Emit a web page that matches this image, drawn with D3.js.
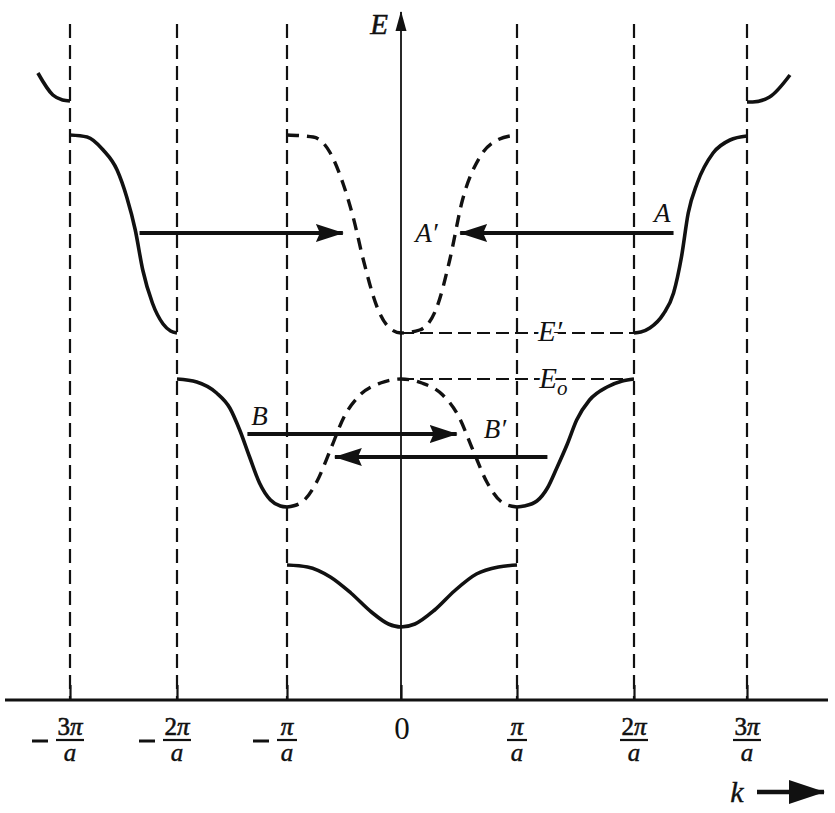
<!DOCTYPE html>
<html>
<head>
<meta charset="utf-8">
<script src="https://cdn.jsdelivr.net/npm/d3@7"></script>
<style>
  html, body { margin: 0; padding: 0; background: #fff; }
  svg { display: block; }
  svg text { font-family: "Liberation Serif", "Times New Roman", Times, serif; fill: #111; }
</style>
</head>
<body>
<svg id="chart" width="835" height="813" font-family="Liberation Serif, Times New Roman, serif"></svg>
<script>
// ---- tick data ----
const kTicks = [-3, -2, -1, 0, 1, 2, 3];
const tickNum = ["3", "2", "", "0", "", "2", "3"];
const tickNeg = [true, true, true, false, false, false, false];

// ---- band data (k in units of π/a, E in arbitrary units) ----
const band1K = [-1, -0.82, -0.62, -0.44, -0.26, -0.11, 0, 0.12, 0.29, 0.46, 0.65, 0.84, 1];
const band1E = [1.35, 1.33, 1.23, 1.07, 0.88, 0.76, 0.73, 0.76, 0.9, 1.09, 1.26, 1.33, 1.35];

const band2LeftK = [-2, -1.82, -1.64, -1.52, -1.43, -1.34, -1.25, -1.15, -1.06, -1];
const band2LeftE = [3.21, 3.18, 3.07, 2.92, 2.70, 2.43, 2.17, 2.00, 1.94, 1.93];
const band2RightK = [1, 1.06, 1.17, 1.26, 1.34, 1.43, 1.51, 1.62, 1.77, 1.9, 2];
const band2RightE = [1.93, 1.94, 1.99, 2.12, 2.32, 2.56, 2.80, 3.00, 3.13, 3.19, 3.21];
const band2DashK = [-1, -0.88, -0.74, -0.62, -0.5, -0.36, -0.18, 0, 0.18, 0.36, 0.5, 0.62, 0.74, 0.88, 1];
const band2DashE = [1.93, 1.97, 2.18, 2.5, 2.83, 3.05, 3.17, 3.21, 3.17, 3.05, 2.83, 2.5, 2.18, 1.97, 1.93];

const band3LeftK = [-3, -2.84, -2.69, -2.56, -2.47, -2.39, -2.32, -2.23, -2.13, -2.06, -2];
const band3LeftE = [5.65, 5.63, 5.50, 5.30, 5.03, 4.70, 4.30, 3.97, 3.76, 3.69, 3.67];
const band3RightK = [2, 2.06, 2.14, 2.26, 2.35, 2.42, 2.48, 2.56, 2.70, 2.85, 3];
const band3RightE = [3.67, 3.68, 3.72, 3.86, 4.07, 4.43, 4.87, 5.17, 5.47, 5.60, 5.64];
const band3DashK = [-1, -0.77, -0.62, -0.51, -0.42, -0.33, -0.21, -0.1, 0, 0.16, 0.31, 0.42, 0.53, 0.68, 0.83, 1];
const band3DashE = [5.65, 5.63, 5.47, 5.17, 4.83, 4.40, 3.93, 3.72, 3.67, 3.70, 3.93, 4.40, 5.00, 5.43, 5.60, 5.65];

const band4LeftK = [-3.3, -3.16, -3.07, -3];
const band4LeftE = [6.27, 6.05, 6.00, 5.99];
const band4RightK = [3, 3.05, 3.2, 3.38];
const band4RightE = [5.98, 5.98, 6.03, 6.25];

// reference levels
const levelNames = ["E′", "E"];
const levelSub = ["", "o"];
const levelE = [3.67, 3.21];
const levelK = [0, 2];
const levelLabelK = [1.18, 1.19];

// arrows: start k, end k, E
const arrowStartK = [-2.35, 2.35, -1.36, 1.26];
const arrowEndK = [-0.51, 0.51, 0.48, -0.58];
const arrowE = [4.67, 4.67, 2.66, 2.43];

// point labels
const ptLabels = ["A", "A′", "B", "B′"];
const ptLabelK = [2.25, 0.22, -1.25, 0.81];
const ptLabelE = [4.78, 4.58, 2.75, 2.62];

// ---- scales ----
const x = d3.scaleLinear()
  .domain([-3, -2, -1, 0, 1, 2, 3])
  .range([70, 177, 287, 401, 517, 634, 747]);
const y = d3.scaleLinear().domain([0, 7]).range([700, 0]);

const svg = d3.select("#chart");
const ink = "#111";

// arrow markers
const defs = svg.append("defs");
defs.append("marker")
  .attr("id", "head")
  .attr("viewBox", "0 0 28 20")
  .attr("refX", 27).attr("refY", 10)
  .attr("markerWidth", 28).attr("markerHeight", 20)
  .attr("markerUnits", "userSpaceOnUse")
  .attr("orient", "auto")
  .append("path").attr("d", "M0,1 L28,10 L0,19 L4,10 Z").attr("fill", ink);
defs.append("marker")
  .attr("id", "headSmall")
  .attr("viewBox", "0 0 20 20")
  .attr("refX", 19).attr("refY", 10)
  .attr("markerWidth", 20).attr("markerHeight", 20)
  .attr("markerUnits", "userSpaceOnUse")
  .attr("orient", "auto")
  .append("path").attr("d", "M0,4.5 L20,10 L0,15.5 Z").attr("fill", ink);
defs.append("marker")
  .attr("id", "headK")
  .attr("viewBox", "0 0 36 24")
  .attr("refX", 35).attr("refY", 12)
  .attr("markerWidth", 36).attr("markerHeight", 24)
  .attr("markerUnits", "userSpaceOnUse")
  .attr("orient", "auto")
  .append("path").attr("d", "M0,0 L36,12 L0,24 Z").attr("fill", ink);

// vertical dashed zone boundaries
svg.append("g").selectAll("line")
  .data(kTicks.filter(k => k !== 0))
  .join("line")
  .attr("x1", d => x(d)).attr("x2", d => x(d))
  .attr("y1", 24).attr("y2", y(0))
  .attr("stroke", ink).attr("stroke-width", 2.2)
  .attr("stroke-dasharray", "14,7");

// horizontal axis with ticks
const axis = d3.axisBottom(x).tickValues(kTicks).tickSize(-15).tickFormat("");
const gAxis = svg.append("g").attr("transform", `translate(0,${y(0)})`).call(axis);
gAxis.attr("font-family", null);
gAxis.select(".domain").remove();
gAxis.selectAll(".tick line").attr("stroke", ink).attr("stroke-width", 2.2);
svg.append("line")
  .attr("x1", 5).attr("x2", 828).attr("y1", y(0)).attr("y2", y(0))
  .attr("stroke", ink).attr("stroke-width", 2.8);

// vertical E axis
svg.append("line")
  .attr("x1", x(0)).attr("x2", x(0)).attr("y1", y(0)).attr("y2", 12)
  .attr("stroke", ink).attr("stroke-width", 1.8)
  .attr("marker-end", "url(#headSmall)");
svg.append("text").attr("x", 379).attr("y", 34)
  .attr("text-anchor", "middle").attr("font-size", 29).attr("font-style", "italic")
  .attr("stroke", ink).attr("stroke-width", 0.5).text("E");

// tick labels as fractions
const tl = svg.append("g").selectAll("g").data(kTicks).join("g")
  .attr("transform", d => `translate(${x(d) + (d === 0 ? 1 : 0)},0)`);
tl.each(function (d, i) {
  const g = d3.select(this);
  if (d === 0) {
    g.append("text").attr("x", 0).attr("y", 739).attr("text-anchor", "middle")
      .attr("font-size", 31).text("0");
    return;
  }
  const t = g.append("text").attr("x", 0).attr("y", 735).attr("text-anchor", "middle")
    .attr("font-size", 25).attr("stroke", ink).attr("stroke-width", 0.6);
  if (tickNum[i]) t.append("tspan").text(tickNum[i]);
  t.append("tspan").attr("font-style", "italic").text("π");
  const halfW = tickNum[i] ? 14 : 10;
  g.append("line").attr("x1", -halfW).attr("x2", halfW).attr("y1", 740).attr("y2", 740)
    .attr("stroke", ink).attr("stroke-width", 2.2);
  g.append("text").attr("x", 0).attr("y", 761).attr("text-anchor", "middle")
    .attr("font-size", 25).attr("font-style", "italic").attr("stroke", ink).attr("stroke-width", 0.4).text("a");
  if (tickNeg[i]) {
    const off = tickNum[i] ? 38 : 34;
    g.append("line").attr("x1", -off).attr("x2", -off + 16).attr("y1", 741).attr("y2", 741)
      .attr("stroke", ink).attr("stroke-width", 3);
  }
});

// k label with arrow
svg.append("text").attr("x", 737).attr("y", 802).attr("text-anchor", "middle")
  .attr("font-size", 30).attr("font-style", "italic").attr("stroke", ink).attr("stroke-width", 0.4).text("k");
svg.append("line").attr("x1", 757).attr("x2", 824).attr("y1", 792).attr("y2", 792)
  .attr("stroke", ink).attr("stroke-width", 4.5).attr("marker-end", "url(#headK)");

// reference level dashed lines
svg.append("g").selectAll("line").data(levelE).join("line")
  .attr("x1", x(levelK[0])).attr("x2", x(levelK[1]))
  .attr("y1", d => y(d)).attr("y2", d => y(d))
  .attr("stroke", ink).attr("stroke-width", 2).attr("stroke-dasharray", "13,6");

// bands
const line = d3.line().x(d => x(d[0])).y(d => y(d[1])).curve(d3.curveMonotoneX);
const zip = (a, b) => a.map((v, i) => [v, b[i]]);
const solid = [
  zip(band1K, band1E), zip(band2LeftK, band2LeftE), zip(band2RightK, band2RightE),
  zip(band3LeftK, band3LeftE), zip(band3RightK, band3RightE),
  zip(band4LeftK, band4LeftE), zip(band4RightK, band4RightE)
];
const dashed = [zip(band2DashK, band2DashE), zip(band3DashK, band3DashE)];
svg.append("g").selectAll("path").data(solid).join("path")
  .attr("d", line).attr("fill", "none").attr("stroke", ink).attr("stroke-width", 3.6)
  .attr("stroke-linecap", "butt");
svg.append("g").selectAll("path").data(dashed).join("path")
  .attr("d", line).attr("fill", "none").attr("stroke", ink).attr("stroke-width", 3.4)
  .attr("stroke-dasharray", "12,8");

// level labels (white halo breaks the dashes)
levelE.forEach((e, i) => {
  const t = svg.append("text").attr("x", x(levelLabelK[i])).attr("y", y(e) + 8 + (i === 1 ? 1 : 0))
    .attr("font-size", 29).attr("font-style", "italic")
    .attr("stroke", "#fff").attr("stroke-width", 6).attr("paint-order", "stroke");
  t.append("tspan").text(levelNames[i]);
  if (levelSub[i]) t.append("tspan").attr("font-size", 21).attr("dy", 7).text(levelSub[i]);
});

// arrows
svg.append("g").selectAll("line").data(arrowE).join("line")
  .attr("x1", (d, i) => x(arrowStartK[i])).attr("x2", (d, i) => x(arrowEndK[i]))
  .attr("y1", d => y(d)).attr("y2", d => y(d))
  .attr("stroke", ink).attr("stroke-width", 3.8)
  .attr("marker-end", "url(#head)");

// point labels
svg.append("g").selectAll("text").data(ptLabels).join("text")
  .attr("x", (d, i) => x(ptLabelK[i])).attr("y", (d, i) => y(ptLabelE[i]))
  .attr("text-anchor", "middle").attr("font-size", 27).attr("font-style", "italic")
  .attr("stroke", "#fff").attr("stroke-width", 4).attr("paint-order", "stroke")
  .text(d => d);
</script>
</body>
</html>
